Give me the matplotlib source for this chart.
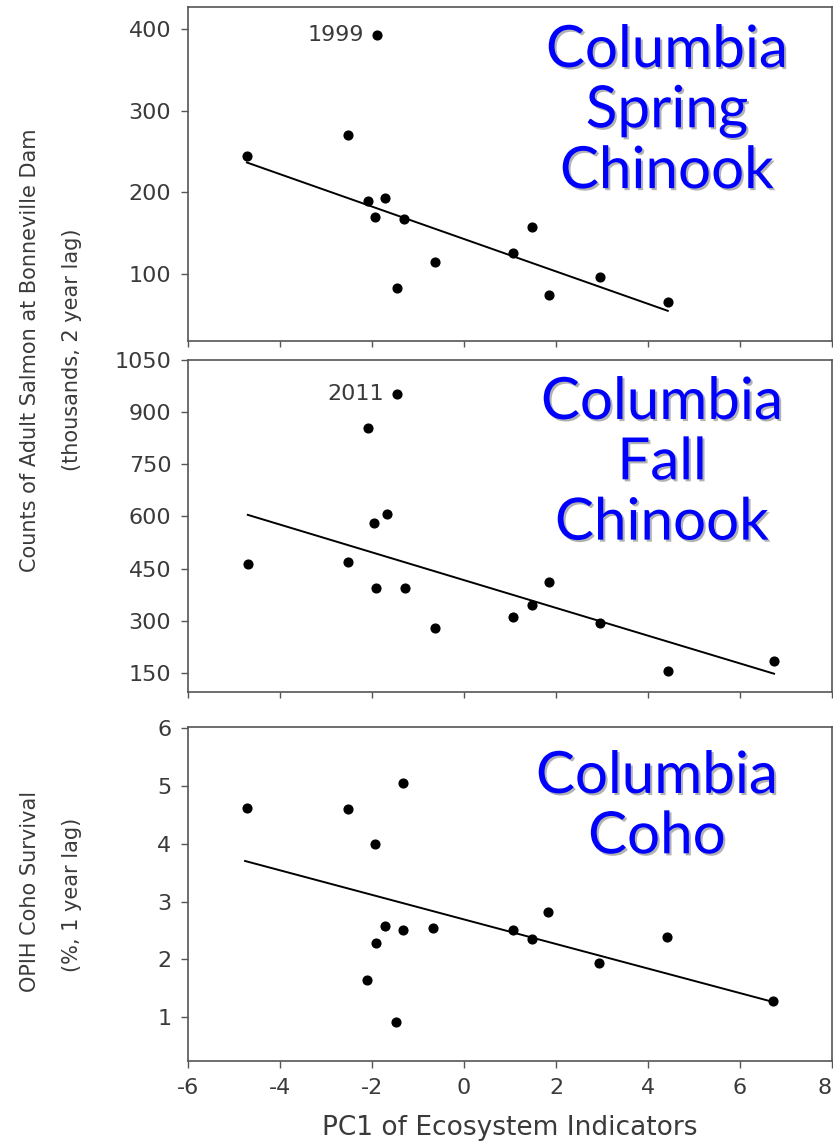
import matplotlib
matplotlib.use("Agg")
import matplotlib.pyplot as plt
import matplotlib.patheffects as pe
import numpy as np

plt.rcParams["axes.unicode_minus"] = False

# ---- data ----
spring_x = [-4.72, -2.52, -1.89, -2.09, -1.72, -1.93, -1.30, -1.46, -0.63, 1.06, 1.48, 1.85, 2.96, 4.43]
spring_y = [244, 270, 393, 189, 193, 170, 167, 83, 115, 126, 158, 74, 96, 66]
spring_fit = [142.9, -19.85]          # intercept, slope
spring_fit_x = [-4.72, 4.43]

fall_x = [-4.70, -1.46, -2.09, -1.68, -1.95, -2.52, -1.91, -1.28, -0.63, 1.06, 1.48, 1.85, 2.96, 4.43, 6.74]
fall_y = [464, 952, 855, 607, 581, 470, 395, 395, 280, 311, 346, 412, 294, 156, 185]
fall_fit = [416.8, -39.94]
fall_fit_x = [-4.70, 6.74]

coho_x = [-4.72, -2.52, -1.33, -1.93, -1.72, -1.33, -1.92, -2.11, -1.48, -0.67, 1.06, 1.47, 1.83, 2.94, 4.41, 6.72]
coho_y = [4.62, 4.60, 5.05, 4.00, 2.57, 2.50, 2.28, 1.64, 0.91, 2.54, 2.50, 2.35, 2.82, 1.93, 2.38, 1.28]
coho_fit = [2.69, -0.2125]
coho_fit_x = [-4.76, 6.72]

x_ticks = [-6, -4, -2, 0, 2, 4, 6, 8]
spring_ticks = [100, 200, 300, 400]
fall_ticks = [150, 300, 450, 600, 750, 900, 1050]
coho_ticks = [1, 2, 3, 4, 5, 6]

titles = ["Columbia\nSpring\nChinook", "Columbia\nFall\nChinook", "Columbia\nCoho"]
annot_spring = ("1999", -1.89, 393)
annot_fall = ("2011", -1.46, 952)

ylabel_top = "Counts of Adult Salmon at Bonneville Dam\n(thousands, 2 year lag)"
ylabel_bot = "OPIH Coho Survival\n(%, 1 year lag)"
xlabel = "PC1 of Ecosystem Indicators"

# ---- figure ----
W, H = 833, 1148
fig = plt.figure(figsize=(W / 100, H / 100), dpi=100)
fig.patch.set_facecolor("white")

TXT = "#3a3a3a"
SP = "#555555"
FONT = "DejaVu Sans"

def px_axes(top, bottom, left=188, right=832):
    return [left / W, 1 - bottom / H, (right - left) / W, (bottom - top) / H]

ax1 = fig.add_axes(px_axes(7, 341))
ax2 = fig.add_axes(px_axes(360, 692))
ax3 = fig.add_axes(px_axes(727, 1061))

panels = [
    (ax1, spring_x, spring_y, spring_fit, spring_fit_x, spring_ticks, (18, 427)),
    (ax2, fall_x, fall_y, fall_fit, fall_fit_x, fall_ticks, (95, 1050)),
    (ax3, coho_x, coho_y, coho_fit, coho_fit_x, coho_ticks, (0.24, 6.02)),
]

for i, (ax, xs, ys, fit, fx, yt, yl) in enumerate(panels):
    ax.plot(xs, ys, "o", color="black", markersize=6.3, zorder=3)
    fxa = np.array(fx)
    ax.plot(fxa, fit[0] + fit[1] * fxa, color="black", lw=1.4, zorder=2)
    ax.set_xlim(-6, 8)
    ax.set_ylim(*yl)
    ax.set_xticks(x_ticks)
    ax.set_yticks(yt)
    for s in ax.spines.values():
        s.set_color(SP)
        s.set_linewidth(1.2)
    ax.tick_params(axis="both", colors=SP, labelcolor=TXT, length=5, width=1.0,
                   labelsize=16, pad=7)
    for lab in ax.get_yticklabels() + ax.get_xticklabels():
        lab.set_fontfamily(FONT)
    if i < 2:
        ax.tick_params(axis="x", labelbottom=False, length=4)

# keep the last x tick label inside the figure
ax3.set_xticks(x_ticks, [str(v) for v in x_ticks])
for lab in ax3.get_xticklabels():
    lab.set_fontfamily(FONT)
ax3.get_xticklabels()[-1].set_ha("right")

# annotations
for ax, (t, x, y) in [(ax1, annot_spring), (ax2, annot_fall)]:
    ax.annotate(t, (x, y), xytext=(-9, 0), textcoords="offset points",
                ha="right", va="center", fontsize=16, color=TXT, family=FONT)

# blue titles
shadow = [pe.withSimplePatchShadow(offset=(1.5, -1.5), shadow_rgbFace="#808080", alpha=0.6)]
title_pos = [(667, 24), (662, 376), (657, 750)]
for t, (xp, yp) in zip(titles, title_pos):
    fig.text(xp / W, 1 - yp / H, t, ha="center", va="top", fontsize=42,
             family="Lato", color="#0000ff", linespacing=1.17, path_effects=shadow)

# y labels
fig.text(30 / W, 1 - 350 / H, ylabel_top.split("\n")[0], rotation=90, ha="center",
         va="center", fontsize=15, color=TXT, family=FONT)
fig.text(72 / W, 1 - 350 / H, ylabel_top.split("\n")[1], rotation=90, ha="center",
         va="center", fontsize=15, color=TXT, family=FONT)
fig.text(30 / W, 1 - 891 / H, ylabel_bot.split("\n")[0], rotation=90, ha="center",
         va="center", fontsize=15, color=TXT, family=FONT)
fig.text(72 / W, 1 - 895 / H, ylabel_bot.split("\n")[1], rotation=90, ha="center",
         va="center", fontsize=15, color=TXT, family=FONT)

# x label
fig.text(510 / W, 1 - 1128 / H, xlabel, ha="center", va="center", fontsize=19,
         color=TXT, family=FONT)

fig.savefig("out.png", dpi=100, facecolor="white")
